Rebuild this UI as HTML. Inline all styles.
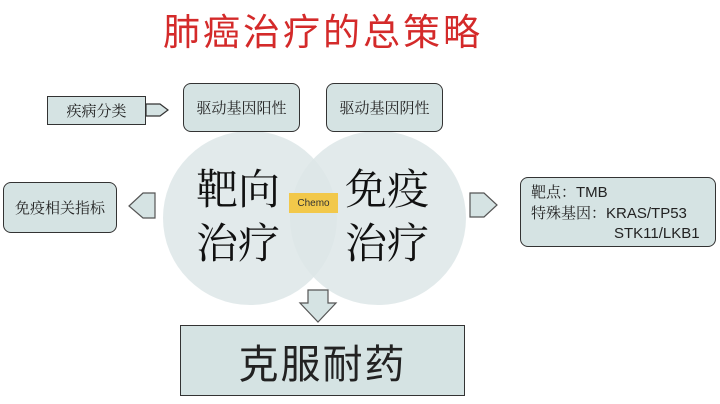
<!DOCTYPE html>
<html><head><meta charset="utf-8"><style>
body{margin:0;width:720px;height:404px;background:#fff;position:relative;overflow:hidden;font-family:"Noto Serif CJK SC","Liberation Serif",serif}
.a{position:absolute}
.bx{position:absolute;background:#d5e3e3;border:1.5px solid #333;border-radius:8px;display:flex;align-items:center;justify-content:center;font-size:15px;color:#222;box-sizing:border-box}
.c{position:absolute;border-radius:50%;background:#dde6e7;opacity:.85}
</style></head><body>
<div class="a" style="left:163px;top:2px;font-size:37px;color:#d42a2a;letter-spacing:3px;font-family:'Noto Sans CJK SC',sans-serif">肺癌治疗的总策略</div>
<div class="c" style="left:163px;top:131px;width:174px;height:174px"></div>
<div class="c" style="left:290px;top:131px;width:176px;height:174px"></div>
<div class="bx" style="left:47px;top:96px;width:99px;height:29px;border-radius:0">疾病分类</div>
<svg class="a" style="left:0;top:0" width="720" height="404">
<polygon points="146,104 160,104 168,110 160,116 146,116" fill="#d5e3e3" stroke="#333" stroke-width="1.2"/>
<polygon points="155,193 143,193 129,206 143,218 155,218" fill="#d5e3e3" stroke="#555" stroke-width="1.2"/>
<polygon points="470,193 484,193 497,205 484,217 470,217" fill="#d5e3e3" stroke="#555" stroke-width="1.2"/>
<polygon points="308,290 328,290 328,303 336,303 318,322 300,303 308,303" fill="#d5e3e3" stroke="#555" stroke-width="1.2"/>
</svg>
<div class="bx" style="left:183px;top:83px;width:117px;height:49px">驱动基因阳性</div>
<div class="bx" style="left:326px;top:83px;width:117px;height:49px">驱动基因阴性</div>
<div class="bx" style="left:3px;top:182px;width:114px;height:51px">免疫相关指标</div>
<div class="a" style="left:196px;top:160px;font-size:42px;line-height:54px;color:#111;width:90px">靶向<br>治疗</div>
<div class="a" style="left:345px;top:160px;font-size:42px;line-height:54px;color:#111;width:90px">免疫<br>治疗</div>
<div class="a" style="left:289px;top:193px;width:49px;height:20px;background:#f2c84a;font-family:'Liberation Sans',sans-serif;font-size:10px;display:flex;align-items:center;justify-content:center;color:#333">Chemo</div>
<div class="bx" style="left:520px;top:177px;width:196px;height:70px;display:block;padding:4px 0 0 10px;font-size:15px;line-height:20px;text-align:left">
<div>靶点：<span style="font-family:'Liberation Sans',sans-serif">TMB</span></div>
<div>特殊基因：<span style="font-family:'Liberation Sans',sans-serif">KRAS/TP53</span></div>
<div style="padding-left:83px;font-family:'Liberation Sans',sans-serif">STK11/LKB1</div>
</div>
<div class="bx" style="left:180px;top:325px;width:285px;height:71px;border-radius:0;font-size:40px;letter-spacing:2px;font-family:'Noto Sans CJK SC',sans-serif">克服耐药</div>
</body></html>
